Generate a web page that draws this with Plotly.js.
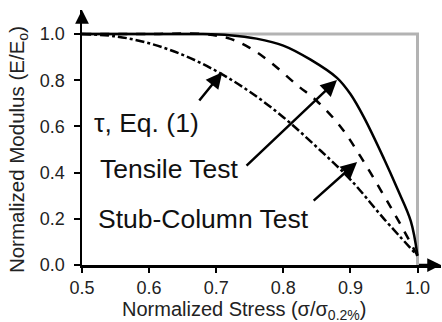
<!DOCTYPE html>
<html>
<head>
<meta charset="utf-8">
<script src="https://cdn.plot.ly/plotly-3.0.1.min.js"></script>
<style>html,body{margin:0;padding:0;background:#fff;}#chart{width:442px;height:322px;}</style>
</head>
<body>
<div id="chart"></div>
<script>
// Normalized stress (x) and normalized modulus (y)
const solidX  = [0.50, 0.60, 0.68, 0.72, 0.76, 0.80, 0.84, 0.88, 0.90, 0.92, 0.95, 0.97, 0.99, 1.00];
const solidY  = [1.00, 1.00, 1.00, 0.995, 0.98, 0.95, 0.89, 0.81, 0.74, 0.64, 0.46, 0.33, 0.19, 0.04];
const dashX   = [0.50, 0.60, 0.68, 0.72, 0.75, 0.78, 0.82, 0.85, 0.885, 0.915, 0.95, 0.97, 1.00];
const dashY   = [1.00, 1.00, 1.00, 0.98, 0.94, 0.88, 0.78, 0.71, 0.60, 0.47, 0.30, 0.20, 0.04];
const tauX    = [0.50, 0.55, 0.60, 0.65, 0.70, 0.75, 0.80, 0.85, 0.90, 0.95, 1.00];
const tauY    = [1.00, 0.99, 0.96, 0.91, 0.84, 0.75, 0.64, 0.51, 0.37, 0.20, 0.04];
const refX    = [0.50, 1.00, 1.00];
const refY    = [1.00, 1.00, 0.00];
const xTicks  = [0.5, 0.6, 0.7, 0.8, 0.9, 1.0];
const yTicks  = [0.0, 0.2, 0.4, 0.6, 0.8, 1.0];
const labels  = ["\u03c4, Eq. (1)", "Tensile Test", "Stub-Column Test"];

const FONT = "Liberation Sans, Arial, sans-serif";

const traces = [
  {x: refX, y: refY, mode: "lines", line: {color: "#b3b3b3", width: 3}, hoverinfo: "skip", cliponaxis: false},
  {x: tauX, y: tauY, mode: "lines", line: {color: "#000", width: 2.5, dash: "dashdot", shape: "spline"}, cliponaxis: false},
  {x: dashX, y: dashY, mode: "lines", line: {color: "#000", width: 2.5, dash: "dash", shape: "spline"}, cliponaxis: false},
  {x: solidX, y: solidY, mode: "lines", line: {color: "#000", width: 2.5, shape: "spline"}, cliponaxis: false}
];

const arrowStyle = {showarrow: true, arrowhead: 2, arrowsize: 1.3, arrowwidth: 2.5, arrowcolor: "#000", axref: "x", ayref: "y", text: "", standoff: 0};
const labelFont = {family: FONT, size: 26.5, color: "#111"};

const layout = {
  width: 442, height: 322,
  margin: {l: 82, r: 1, t: 10, b: 57, pad: 0},
  paper_bgcolor: "#fff", plot_bgcolor: "#fff",
  showlegend: false,
  font: {family: FONT, color: "#000", size: 18},
  xaxis: {
    range: [0.5, 1.035], tickvals: xTicks, tickformat: ".1f",
    showline: true, linecolor: "#000", linewidth: 2.5,
    ticks: "outside", ticklen: 5, tickwidth: 2, tickcolor: "#000",
    showgrid: false, zeroline: false,
    tickfont: {family: FONT, size: 18, color: "#222"}
  },
  yaxis: {
    range: [0, 1.104], tickvals: yTicks, tickformat: ".1f",
    showline: true, linecolor: "#000", linewidth: 2.5,
    ticks: "outside", ticklen: 6, tickwidth: 2, tickcolor: "#000",
    ticklabelstandoff: 5,
    showgrid: false, zeroline: false,
    tickfont: {family: FONT, size: 18, color: "#222"}
  },
  annotations: [
    // axis arrows
    Object.assign({}, arrowStyle, {x: 0.5, y: 1.104, ax: 0.5, ay: 1.05, arrowsize: 1.1}),
    Object.assign({}, arrowStyle, {x: 1.035, y: 0, ax: 1.0, ay: 0, arrowsize: 1.1}),
    // label arrows
    Object.assign({}, arrowStyle, {x: 0.709, y: 0.835, ax: 0.673, ay: 0.706}),
    Object.assign({}, arrowStyle, {x: 0.880, y: 0.801, ax: 0.743, ay: 0.424}),
    Object.assign({}, arrowStyle, {x: 0.910, y: 0.446, ax: 0.843, ay: 0.273}),
    // labels
    {x: 0.516, y: 0.615, xref: "x", yref: "y", text: labels[0], showarrow: false, xanchor: "left", yanchor: "middle", borderpad: 0, font: labelFont},
    {x: 0.526, y: 0.416, xref: "x", yref: "y", text: labels[1], showarrow: false, xanchor: "left", yanchor: "middle", borderpad: 0, font: labelFont},
    {x: 0.522, y: 0.199, xref: "x", yref: "y", text: labels[2], showarrow: false, xanchor: "left", yanchor: "middle", borderpad: 0, font: labelFont},
    // axis titles
    {x: 0.742, y: -0.177, xref: "x", yref: "paper", text: "Normalized Stress (\u03c3/\u03c3<sub>0.2%</sub>)", showarrow: false, xanchor: "center", yanchor: "middle", borderpad: 0, font: {family: FONT, size: 20, color: "#222"}},
    {x: -0.178, y: 0.451, xref: "paper", yref: "paper", text: "Normalized Modulus (E/E<sub>o</sub>)", showarrow: false, textangle: -90, xanchor: "center", yanchor: "middle", borderpad: 0, font: {family: FONT, size: 20.5, color: "#222"}}
  ]
};

Plotly.newPlot("chart", traces, layout, {displayModeBar: false, staticPlot: true});
</script>
</body>
</html>
